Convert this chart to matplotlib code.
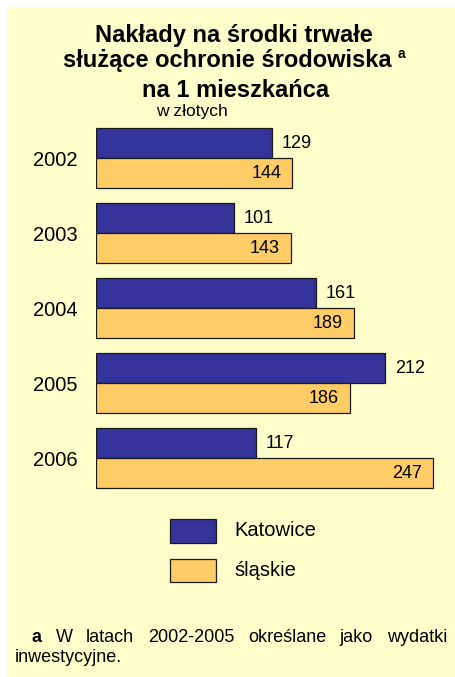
"""Nakłady na środki trwałe służące ochronie środowiska na 1 mieszkańca."""

import matplotlib.pyplot as plt
import numpy as np
from matplotlib.patches import Rectangle

plt.rcParams["font.family"] = ["Liberation Sans", "DejaVu Sans"]

years = ["2002", "2003", "2004", "2005", "2006"]
katowice = [129, 101, 161, 212, 117]
slaskie = [144, 143, 189, 186, 247]
series_names = ["Katowice", "śląskie"]

BG = "#FFFFCC"
BLUE = "#333399"
ORANGE = "#FFCC66"
EDGE = "#1a1a1a"

W, H = 455, 677
fig = plt.figure(figsize=(W / 100, H / 100), dpi=100)
fig.patch.set_facecolor("white")
fig.patches.append(
    Rectangle((7 / W, 0), 1 - 7 / W, 1 - 7 / H, transform=fig.transFigure,
              facecolor=BG, edgecolor="none", zorder=-10)
)


def px(x, y):
    """Pixel position (from top-left) to figure fraction."""
    return x / W, 1 - y / H


# axes placed in pixel terms
left, right = 96 / W, 1.0
top, bottom = 1 - 121 / H, 1 - 495.5 / H
ax = fig.add_axes([left, bottom, right - left, top - bottom])
ax.set_facecolor("none")
for s in ax.spines.values():
    s.set_visible(False)

y = np.arange(len(years))
h = 0.4
ax.barh(y - h / 2, katowice, height=h, color=BLUE, edgecolor=EDGE, linewidth=0.9)
ax.barh(y + h / 2, slaskie, height=h, color=ORANGE, edgecolor=EDGE, linewidth=0.9)

ax.set_xlim(0, (W - 96) / 1.364)
ax.set_ylim(len(years) - 0.5, -0.5)
ax.set_xticks([])
ax.set_yticks(y)
ax.set_yticklabels(years, fontsize=14.5)
ax.tick_params(axis="y", length=0, pad=13)

for yi, v in zip(y, katowice):
    ax.annotate(str(v), (v, yi - h / 2), xytext=(7, 0), textcoords="offset points",
                ha="left", va="center", fontsize=13)
for yi, v in zip(y, slaskie):
    ax.annotate(str(v), (v, yi + h / 2), xytext=(-8, 0), textcoords="offset points",
                ha="right", va="center", fontsize=13)

# title
fig.text(*px(234, 42), "Nakłady na środki trwałe", ha="center", va="baseline",
         fontsize=17, fontweight="bold")
fig.text(*px(63, 67), "służące ochronie środowiska", ha="left", va="baseline",
         fontsize=17, fontweight="bold")
fig.text(*px(398, 58), "a", ha="left", va="baseline", fontsize=10, fontweight="bold")
fig.text(*px(235.5, 97), "na 1 mieszkańca", ha="center", va="baseline",
         fontsize=17, fontweight="bold")
fig.text(*px(156, 116), "w złotych", ha="left", va="baseline", fontsize=12.5)

# legend
for i, (name, col) in enumerate(zip(series_names, [BLUE, ORANGE])):
    y0 = 519 + i * 39.5
    fig.patches.append(
        Rectangle(px(170, y0 + 23.5), 46 / W, 23.5 / H, transform=fig.transFigure,
                  facecolor=col, edgecolor=EDGE, linewidth=0.9)
    )
    fig.text(*px(234, y0 + 12), name, ha="left", va="center", fontsize=14.5)

# footnote, first line justified between x=32 and x=447
renderer = fig.canvas.get_renderer()
words = ["a", "W", "latach", "2002-2005", "określane", "jako", "wydatki"]
texts = [fig.text(0, 1 - 642 / H, wd, ha="left", va="baseline", fontsize=13,
                  fontweight="bold" if i == 0 else "normal")
         for i, wd in enumerate(words)]
widths = [t.get_window_extent(renderer).width for t in texts]
gap = (447 - 32 - sum(widths)) / (len(words) - 1)
xp = 32
for t, wdt in zip(texts, widths):
    t.set_x(xp / W)
    xp += wdt + gap
fig.text(*px(15, 662), "inwestycyjne.", ha="left", va="baseline", fontsize=13)

fig.savefig("out.png", dpi=100, facecolor=fig.get_facecolor())
